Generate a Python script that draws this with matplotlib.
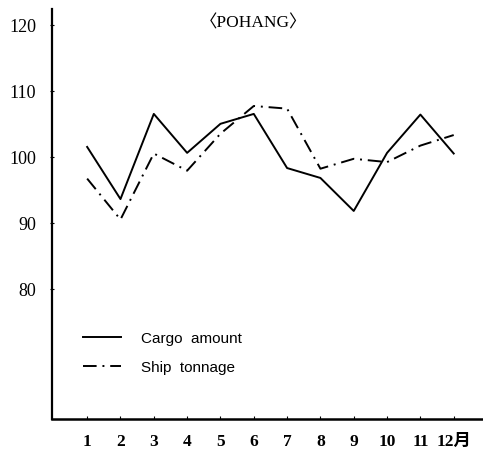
import numpy as np
import matplotlib
matplotlib.use('Agg')
import matplotlib.pyplot as plt

months = [1, 2, 3, 4, 5, 6, 7, 8, 9, 10, 11, 12]
month_labels = ['1', '2', '3', '4', '5', '6', '7', '8', '9', '10', '11', '12月']
cargo = [101.5, 93.6, 106.5, 100.6, 105.0, 106.5, 98.3, 96.8, 91.8, 100.6, 106.4, 100.5]
ship = [96.7, 90.5, 100.5, 97.9, 103.5, 107.7, 107.3, 98.2, 99.7, 99.2, 101.7, 103.3]
yticks = [80, 90, 100, 110, 120]

serif = ['Liberation Serif', 'Noto Sans CJK JP']

fig = plt.figure(figsize=(4.83, 4.52), dpi=100)
ax = fig.add_axes([0.108, 0.071, 0.89, 0.907])

ax.plot(months, cargo, color='black', lw=1.4, label='Cargo  amount')
ax.plot(months, ship, color='black', lw=1.4, linestyle=(0, (7, 3, 1, 3)), label='Ship  tonnage')

ax.set_xlim(-0.05, 12.85)
ax.set_ylim(60.3, 122.4)
ax.set_xticks(months)
ax.set_xticklabels(month_labels, family=serif, fontsize=12.5, fontweight='bold')
ax.set_yticks(yticks)
ax.set_yticklabels([str(v) for v in yticks], family=serif, fontsize=13)
ax.tick_params(axis='x', direction='in', length=2, pad=10)
ax.tick_params(axis='y', direction='inout', length=3, pad=10)

ax.spines['top'].set_visible(False)
ax.spines['right'].set_visible(False)
ax.spines['left'].set_linewidth(1.6)
ax.spines['bottom'].set_linewidth(1.8)

ax.text(6.0, 120.4, '〈POHANG〉', ha='center', va='center', family=serif, fontsize=12.5)

leg = ax.legend(loc='lower left', bbox_to_anchor=(0.04, 0.075), frameon=False,
                handlelength=2.5, handletextpad=1.3, labelspacing=1.0,
                prop={'family': 'Liberation Sans', 'size': 11})

fig.savefig('out.png', dpi=100)
